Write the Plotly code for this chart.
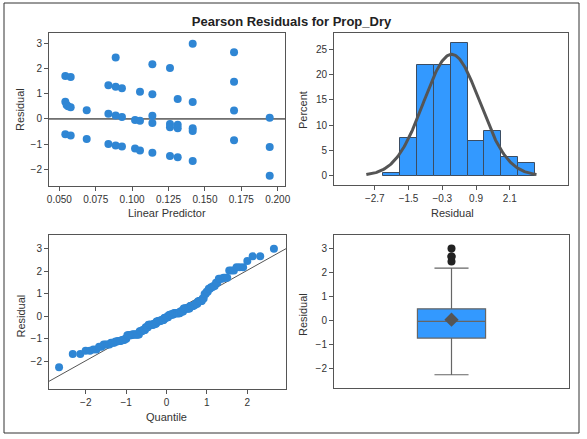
import numpy as np
import plotly.graph_objects as go
from statistics import NormalDist

linear_predictor = [0.0541, 0.0578, 0.0541, 0.0550, 0.0560, 0.0578, 0.0541, 0.0578,
                    0.0688, 0.0688, 0.0837, 0.0837, 0.0837,
                    0.0887, 0.0887, 0.0887, 0.0887, 0.0930, 0.0930, 0.0930,
                    0.1020, 0.1020, 0.1054, 0.1054, 0.1054,
                    0.1139, 0.1139, 0.1139, 0.1139, 0.1139,
                    0.1260, 0.1260, 0.1260, 0.1260, 0.1313, 0.1313, 0.1313, 0.1313,
                    0.1416, 0.1416, 0.1416, 0.1416, 0.1416,
                    0.1700, 0.1700, 0.1700, 0.1700, 0.1945, 0.1945, 0.1945]
residual_values = [1.70, 1.66, 0.68, 0.55, 0.50, 0.46, -0.61, -0.66,
                   0.35, -0.80, 1.34, 0.21, -0.99,
                   2.44, 1.28, 0.14, -1.05, 1.22, 0.08, -1.09,
                   -0.04, -1.17, 1.08, -0.07, -1.25,
                   2.17, 0.98, 0.13, -0.16, -1.34,
                   2.02, -0.20, -0.33, -1.47, 0.79, -0.23, -0.37, -1.52,
                   2.98, 0.67, -0.37, -0.48, -1.67,
                   2.65, 1.48, 0.34, -0.84, 0.05, -1.11, -2.25]
obs_counts = [3, 3, 3, 3, 2, 5, 4, 4,
              6, 9, 2, 5, 2,
              1, 2, 5, 3, 2, 5, 3,
              4, 3, 2, 3, 4,
              3, 2, 5, 4, 2,
              3, 4, 4, 2, 2, 4, 4, 2,
              1, 2, 4, 4, 2,
              2, 2, 3, 5, 3, 2, 1]

hist_ticks = [-2.7, -1.5, -0.3, 0.9, 2.1]
lp_ticks = [0.050, 0.075, 0.100, 0.125, 0.150, 0.175, 0.200]

# ---- derived ----
resid_all = np.repeat(np.array(residual_values), obs_counts)
n = len(resid_all)
mu = float(resid_all.mean())
sd = float(resid_all.std(ddof=1))
sorted_resid = np.sort(resid_all)
nd = NormalDist()
quantiles = [nd.inv_cdf((i - 0.375) / (n + 0.25)) for i in range(1, n + 1)]
bin_width = 0.6
curve_x = np.linspace(-3.0, 3.05, 200)
fit = NormalDist(mu, sd)
curve_y = [100 * bin_width * fit.pdf(v) for v in curve_x]

BLUE = "#2f86d4"
BAR = "#3399ff"
FONT = "Liberation Sans, Arial, sans-serif"
TXT = "#333333"

fig = go.Figure()

# Panel 1: residual vs linear predictor
fig.add_trace(go.Scatter(x=linear_predictor, y=residual_values, mode="markers",
                         marker=dict(color=BLUE, size=8), xaxis="x", yaxis="y",
                         showlegend=False))
# Panel 2: histogram + normal curve
fig.add_trace(go.Histogram(x=resid_all, histnorm="percent",
                           xbins=dict(start=-2.4, end=3.0, size=bin_width),
                           marker=dict(color=BAR, line=dict(color="#3b4d63", width=1)),
                           xaxis="x2", yaxis="y2", showlegend=False))
fig.add_trace(go.Scatter(x=curve_x, y=curve_y, mode="lines",
                         line=dict(color="#555555", width=3), xaxis="x2", yaxis="y2",
                         showlegend=False))
# Panel 3: QQ plot
qq_line_x = [-3.0, 3.0]
fig.add_trace(go.Scatter(x=qq_line_x, y=[mu + sd * v for v in qq_line_x], mode="lines",
                         line=dict(color="#555555", width=1), xaxis="x3", yaxis="y3",
                         showlegend=False))
fig.add_trace(go.Scatter(x=quantiles, y=sorted_resid, mode="markers",
                         marker=dict(color=BLUE, size=8), xaxis="x3", yaxis="y3",
                         showlegend=False))
# Panel 4: box plot
fig.add_trace(go.Box(y=resid_all, x0=0, boxpoints="outliers", width=0.29, whiskerwidth=0.5,
                     fillcolor=BAR, line=dict(color="#666666", width=1.2),
                     marker=dict(color="#222222", size=8),
                     xaxis="x4", yaxis="y4", showlegend=False))
fig.add_trace(go.Scatter(x=[0], y=[mu], mode="markers",
                         marker=dict(symbol="diamond", color="#555555", size=11),
                         xaxis="x4", yaxis="y4", showlegend=False))

W, H = 587, 439


def dom_x(a, b):
    return [a / W, b / W]


def dom_y(top, bottom):
    return [1 - bottom / H, 1 - top / H]


axis_common = dict(showline=True, mirror=True, linecolor="#555555", linewidth=1,
                   ticks="outside", ticklen=4, tickcolor="#555555",
                   showgrid=False, zeroline=False, automargin=False,
                   tickfont=dict(family=FONT, size=10, color=TXT))
title_font = dict(family=FONT, size=11, color=TXT)


def axis_label(text, px, py, vertical=False):
    return dict(text=text, xref="paper", yref="paper", x=px / W, y=1 - py / H,
                xanchor="center", yanchor="middle", showarrow=False,
                textangle=-90 if vertical else 0, font=title_font)


fig.update_layout(
    width=W, height=H, autosize=False,
    margin=dict(l=0, r=0, t=0, b=0, pad=0),
    paper_bgcolor="white", plot_bgcolor="white",
    font=dict(family=FONT, color=TXT),
    title=dict(text="<b>Pearson Residuals for Prop_Dry</b>", x=291.5 / W, xanchor="center",
               y=1 - 21 / H, yanchor="middle", font=dict(family=FONT, size=13, color="#222222"),
               automargin=False),
    xaxis=dict(axis_common, domain=dom_x(49, 285), anchor="y", range=[0.0429, 0.205],
               tickvals=lp_ticks, tickformat=".3f"),
    yaxis=dict(axis_common, domain=dom_y(33, 186), anchor="x", range=[-2.66, 3.41],
               tickvals=[-2, -1, 0, 1, 2, 3]),
    xaxis2=dict(axis_common, domain=dom_x(334, 568), anchor="y2", range=[-4.15, 4.17],
                tickvals=hist_ticks),
    yaxis2=dict(axis_common, domain=dom_y(33, 185), anchor="x2", range=[-1.83, 28.2],
                tickvals=[0, 5, 10, 15, 20, 25]),
    xaxis3=dict(axis_common, domain=dom_x(49, 286), anchor="y3", range=[-2.91, 2.96],
                tickvals=[-2, -1, 0, 1, 2]),
    yaxis3=dict(axis_common, domain=dom_y(235, 389), anchor="x3", range=[-3.21, 3.59],
                tickvals=[-2, -1, 0, 1, 2, 3]),
    xaxis4=dict(axis_common, domain=dom_x(334, 569), anchor="y4", range=[-0.5, 0.5],
                ticks="", showticklabels=False),
    yaxis4=dict(axis_common, domain=dom_y(235, 388), anchor="x4", range=[-2.80, 3.54],
                tickvals=[-2, -1, 0, 1, 2, 3]),
    bargap=0,
    annotations=[
        axis_label("Residual", 20, 110, True),
        axis_label("Linear Predictor", 167, 213),
        axis_label("Percent", 303, 110, True),
        axis_label("Residual", 452.5, 213),
        axis_label("Residual", 20, 316.5, True),
        axis_label("Quantile", 166.5, 416.5),
        axis_label("Residual", 303, 315, True),
    ],
    shapes=[
        dict(type="rect", xref="paper", yref="paper", x0=4 / W, x1=579 / W,
             y0=1 - 433 / H, y1=1 - 3 / H, line=dict(color="#333333", width=1)),
        dict(type="line", xref="x", yref="y", x0=0.0429, x1=0.205, y0=0, y1=0,
             line=dict(color="#000000", width=1), layer="below"),
    ],
)

fig.write_html("out.html", config={"displayModeBar": False},
               post_script="document.body.style.margin='0';")
